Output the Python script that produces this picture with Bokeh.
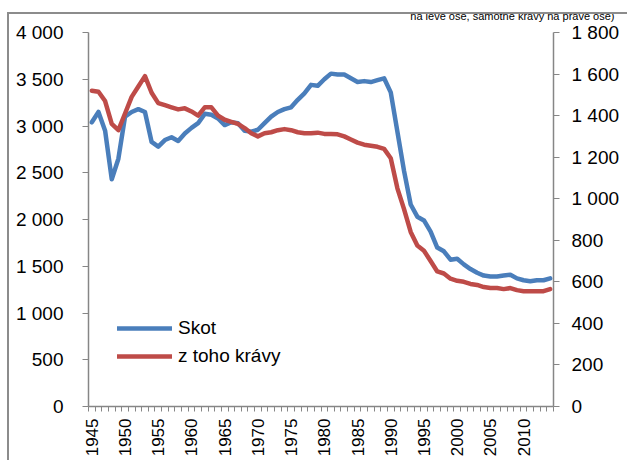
import math
from bokeh.plotting import figure
from bokeh.models import (LinearAxis, Range1d, FixedTicker, CustomJSTickFormatter,
                          Legend, LegendItem, InlineStyleSheet)
from bokeh.embed import file_html
from bokeh.resources import INLINE

years = list(range(1945, 2015))
skot = [3040, 3150, 2950, 2430, 2650, 3100, 3150, 3180, 3150, 2830,
        2780, 2850, 2880, 2840, 2920, 2980, 3030, 3130, 3120, 3080,
        3010, 3040, 3030, 2950, 2940, 2960, 3030, 3100, 3150, 3180,
        3200, 3280, 3350, 3440, 3430, 3500, 3560, 3550, 3550, 3510,
        3470, 3480, 3470, 3490, 3510, 3360, 2940, 2520, 2160, 2030,
        1990, 1870, 1700, 1660, 1570, 1580, 1520, 1470, 1430, 1400,
        1390, 1390, 1400, 1410, 1370, 1350, 1340, 1350, 1350, 1370]
kravy = [1520, 1515, 1470, 1360, 1330, 1410, 1490, 1540, 1590, 1510,
         1460, 1450, 1440, 1430, 1435, 1420, 1400, 1440, 1440, 1400,
         1380, 1370, 1360, 1340, 1315, 1300, 1315, 1320, 1330, 1335,
         1330, 1320, 1315, 1315, 1318, 1312, 1312, 1310, 1300, 1285,
         1270, 1260, 1255, 1250, 1240, 1195, 1050, 950, 840, 775,
         750, 700, 650, 640, 615, 605, 600, 590, 585, 575,
         570, 570, 565, 570, 560, 555, 555, 555, 555, 565]
x_label_years = list(range(1945, 2015, 5))
left_ticks = list(range(0, 4001, 500))
right_ticks = list(range(0, 1801, 200))
series_names = ["Skot", "z toho krávy"]
title_fragment = "na levé ose, samotné krávy na pravé ose)"

BLUE = "#4A7EBB"
RED = "#BE4B48"
AXIS = "#868686"
FONT = "Liberation Sans"

W, H = 627, 460
FL, FR, FT, FB = 88, 74, 32, 54   # frame margins (left, right, top, bottom)
p = figure(width=W, height=H, output_backend="svg", toolbar_location=None,
           x_range=Range1d(years[0] - 0.5, years[-1] + 0.5),
           y_range=Range1d(0, 4000),
           min_border_left=FL, min_border_right=FR,
           min_border_top=FT, min_border_bottom=FB,
           title=title_fragment)
p.extra_y_ranges = {"cows": Range1d(0, 1800)}
p.outline_line_color = None
p.xgrid.visible = False
p.ygrid.visible = False
p.background_fill_color = "white"
p.border_fill_color = "white"

# remaining (lower) line of the cropped chart title, at the very top right
p.title.align = "right"
p.title.offset = -61
p.title.vertical_align = "top"
p.title.standoff = 17
p.title.text_font = FONT
p.title.text_font_size = "11px"
p.title.text_font_style = "normal"
p.title.text_color = "#000000"

fmt = CustomJSTickFormatter(code="""
const t = Math.round(tick);
if (t >= 1000) { return Math.floor(t/1000) + ' ' + String(t % 1000).padStart(3, '0'); }
return String(t);
""")

def style_axis(ax, fs):
    ax.axis_line_color = AXIS
    ax.axis_line_width = 1.5
    ax.major_tick_line_color = AXIS
    ax.minor_tick_line_color = AXIS
    ax.major_label_text_font = FONT
    ax.major_label_text_font_size = fs
    ax.major_label_text_color = "#000000"

ya = p.yaxis[0]
ya.ticker = FixedTicker(ticks=left_ticks, minor_ticks=[])
ya.formatter = fmt
style_axis(ya, "19px")
ya.major_tick_out = 6
ya.major_tick_in = 0
ya.major_label_standoff = 19

ra = LinearAxis(y_range_name="cows")
ra.ticker = FixedTicker(ticks=right_ticks, minor_ticks=[])
ra.formatter = fmt
style_axis(ra, "19px")
ra.major_tick_out = 6
ra.major_tick_in = 0
ra.major_label_standoff = 12
p.add_layout(ra, "right")

xa = p.xaxis[0]
xa.ticker = FixedTicker(ticks=x_label_years,
                        minor_ticks=[y - 0.5 for y in years] + [years[-1] + 0.5])
style_axis(xa, "17px")
xa.major_tick_out = 0
xa.major_tick_in = 0
xa.minor_tick_out = 5
xa.minor_tick_in = 0
xa.major_label_orientation = math.pi / 2
xa.major_label_standoff = 7

r1 = p.line(years, skot, line_width=4.5, color=BLUE, line_join="round", line_cap="round")
r2 = p.line(years, kravy, y_range_name="cows", line_width=4.5, color=RED,
            line_join="round", line_cap="round")

legend = Legend(items=[LegendItem(label=series_names[0], renderers=[r1]),
                       LegendItem(label=series_names[1], renderers=[r2])],
                location=(29, 39), orientation="vertical")
legend.border_line_color = None
legend.background_fill_alpha = 0
legend.padding = 0
legend.margin = 0
legend.spacing = 6
legend.glyph_width = 55
legend.glyph_height = 20
legend.label_height = 20
legend.label_standoff = 6
legend.label_text_font = FONT
legend.label_text_font_size = "19px"
legend.label_text_color = "#000000"
p.add_layout(legend)

# outer chart-area border (left and top edges) of the cropped original chart
p.stylesheets = [InlineStyleSheet(css="""
:host { position: relative; }
:host::after { content: ""; position: absolute; left: 7px; top: 12px; right: 0; bottom: 0;
  border-left: 2px solid #8c8c8c; border-top: 2px solid #8c8c8c;
  pointer-events: none; z-index: 10; }
""")]

open("out.html", "w").write(file_html(p, INLINE))
